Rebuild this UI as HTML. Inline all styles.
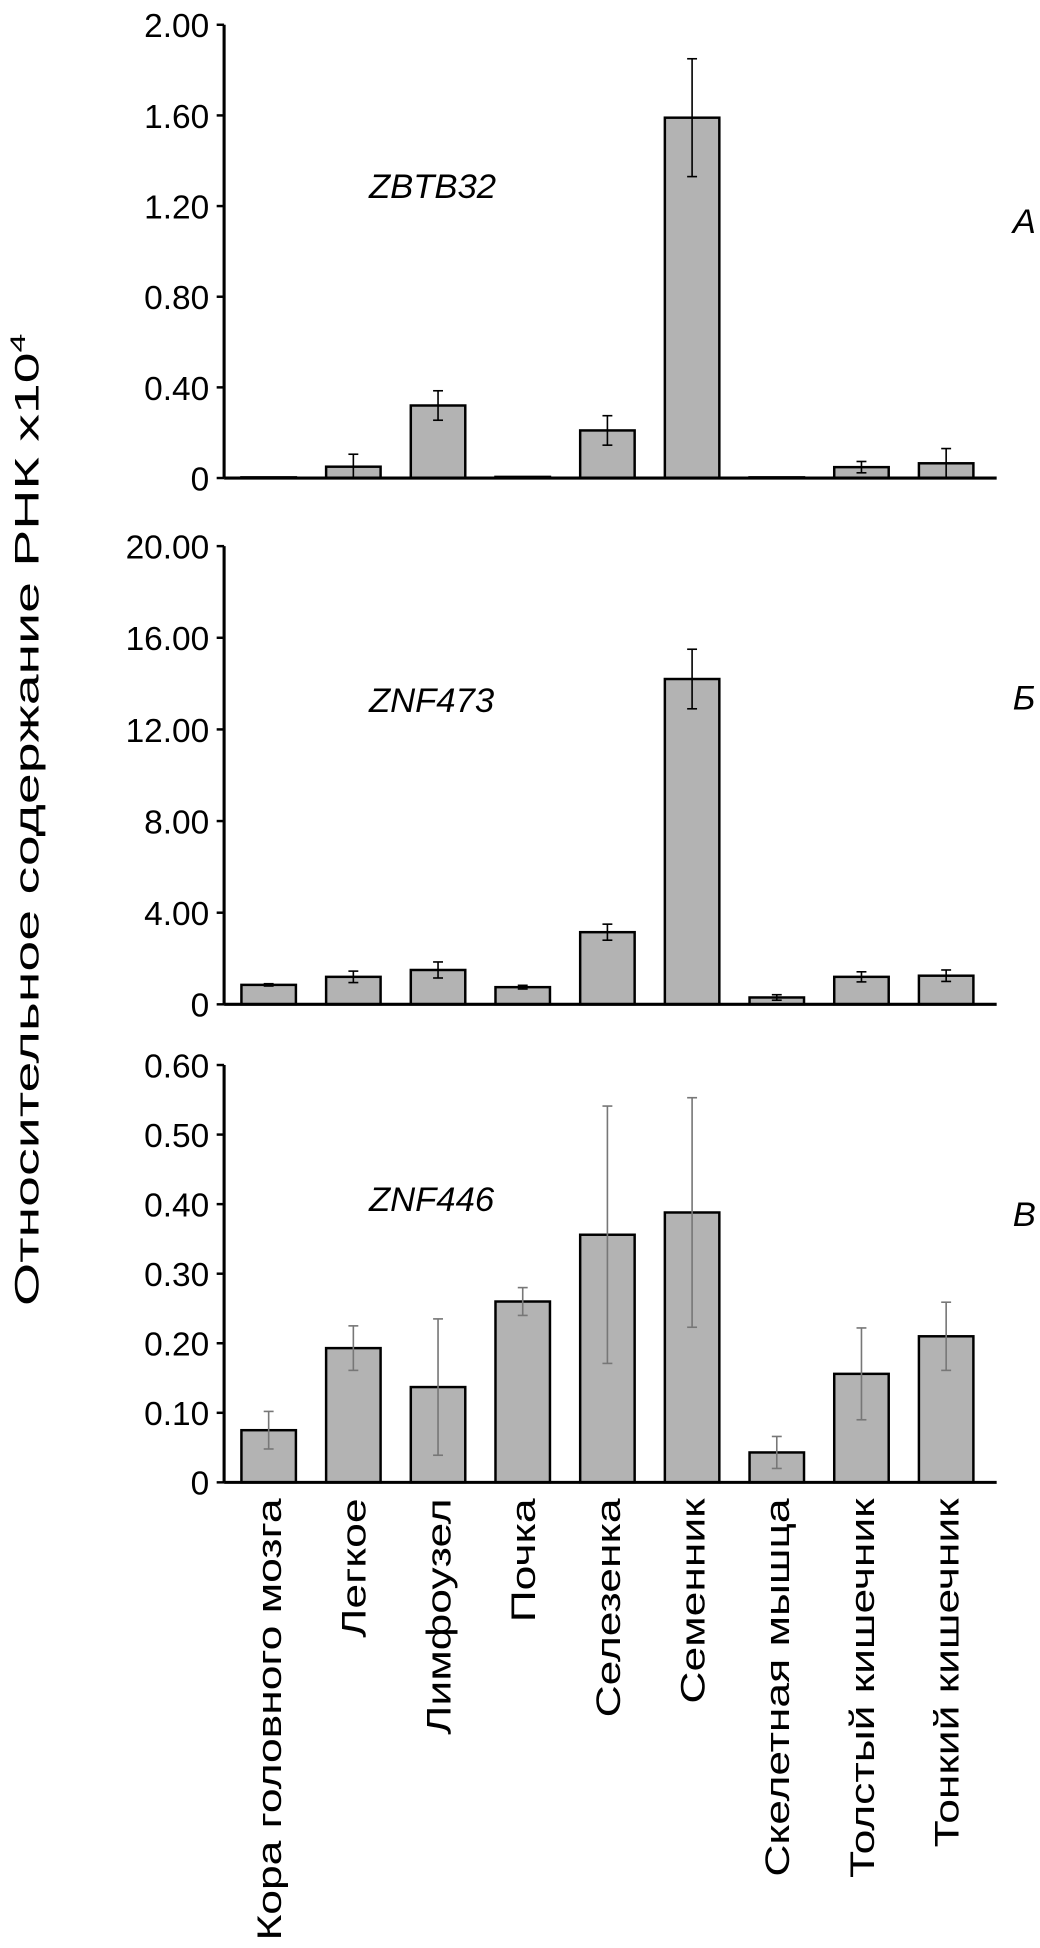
<!DOCTYPE html>
<html><head><meta charset="utf-8"><style>
html,body{margin:0;padding:0;background:#fff}
svg{display:block}
text{font-family:"Liberation Sans",sans-serif;fill:#000}
</style></head><body>
<svg id="chart" width="1040" height="1948" viewBox="0 0 840 1573" preserveAspectRatio="none" xmlns="http://www.w3.org/2000/svg">
<text transform="translate(31,662) rotate(-90) scale(1.6,1)" text-anchor="middle" font-size="28">Относительное содержание РНК x10<tspan dy="-11" font-size="17">4</tspan></text>
</svg>
<script>
const categories = ["Кора головного мозга","Легкое","Лимфоузел","Почка","Селезенка","Семенник","Скелетная мышца","Толстый кишечник","Тонкий кишечник"];
const valuesA = [0.003,0.05,0.32,0.005,0.21,1.59,0.003,0.048,0.065];
const errorsA = [0,0.055,0.065,0,0.065,0.26,0,0.025,0.065];
const ticksA = ["0","0.40","0.80","1.20","1.60","2.00"];
const valuesB = [0.85,1.2,1.5,0.75,3.15,14.2,0.3,1.2,1.25];
const errorsB = [0.05,0.25,0.35,0.08,0.35,1.3,0.12,0.22,0.25];
const ticksB = ["0","4.00","8.00","12.00","16.00","20.00"];
const valuesC = [0.075,0.193,0.137,0.26,0.356,0.388,0.043,0.156,0.21];
const errorsC = [0.027,0.032,0.098,0.02,0.185,0.165,0.023,0.066,0.049];
const ticksC = ["0","0.10","0.20","0.30","0.40","0.50","0.60"];

const svg = document.getElementById('chart');
const NS = 'http://www.w3.org/2000/svg';
function mk(tag, attrs, parent){
  const e = document.createElementNS(NS, tag);
  for (const k in attrs) e.setAttribute(k, attrs[k]);
  (parent||svg).appendChild(e);
  return e;
}
const x0 = 181, x1 = 805, step = 68.4, firstC = 217, bw = 44;
function xc(i){ return firstC + i*step; }

function panel(key, vals, errs, ticks, yTop, yBot, gene, geneY, letter, letterY, errColor){
  const g = mk('g', {});
  
  
  const maxV = parseFloat(ticks[ticks.length-1]);
  const y = v => yBot - (v/maxV)*(yBot-yTop);
  const ax = mk('line', {x1:x0, y1:yTop, x2:x0, y2:yBot, stroke:'#000', 'stroke-width':2.5}, g);
  
  
  ticks.forEach((t, i) => {
    const v = parseFloat(t), yy = y(v);
    mk('line', {x1:x0-6, y1:yy, x2:x0, y2:yy, stroke:'#000', 'stroke-width':2}, g);
    const tx = mk('text', {x:x0-12, y:yy+10, 'text-anchor':'end', 'font-size':27}, g);
    tx.textContent = t;
    
    
  });
  vals.forEach((v, i) => {
    const cx = xc(i);
    const r = mk('rect', {x:cx-bw/2, y:y(v), width:bw, height:Math.max(yBot-y(v),0.5), fill:'#b3b3b3', stroke:'#000', 'stroke-width':2}, g);
    
    
    const e = errs[i];
    if (e > 0) {
      const eg = mk('g', {stroke:errColor, 'stroke-width':1.3}, g);
      
      
      mk('line', {x1:cx, y1:y(v+e), x2:cx, y2:y(Math.max(v-e,0))}, eg);
      mk('line', {x1:cx-4, y1:y(v+e), x2:cx+4, y2:y(v+e)}, eg);
      if (v-e > 0) mk('line', {x1:cx-4, y1:y(v-e), x2:cx+4, y2:y(v-e)}, eg);
    }
  });
  const xa = mk('line', {x1:x0, y1:yBot, x2:x1, y2:yBot, stroke:'#000', 'stroke-width':2.5}, g);
  
  
  const gt = mk('text', {x:298, y:geneY, 'font-size':28, 'font-style':'italic'}, g);
  gt.textContent = gene;
  
  
  const lt = mk('text', {x:818, y:letterY, 'font-size':28, 'font-style':'italic'}, g);
  lt.textContent = letter;
  
  
  return y;
}
panel('a', valuesA, errorsA, ticksA, 20, 386, 'ZBTB32', 160, 'А', 188, '#000');
panel('b', valuesB, errorsB, ticksB, 441, 811, 'ZNF473', 575, 'Б', 573, '#000');
panel('c', valuesC, errorsC, ticksC, 860, 1197, 'ZNF446', 978, 'В', 990, '#777');

categories.forEach((c, i) => {
  const t = mk('text', {transform:'translate(' + (xc(i)+10) + ',1210) rotate(-90) scale(1.28,1)', 'text-anchor':'end', 'font-size':28});
  t.textContent = c;
  
  
});
</script>
</body></html>
